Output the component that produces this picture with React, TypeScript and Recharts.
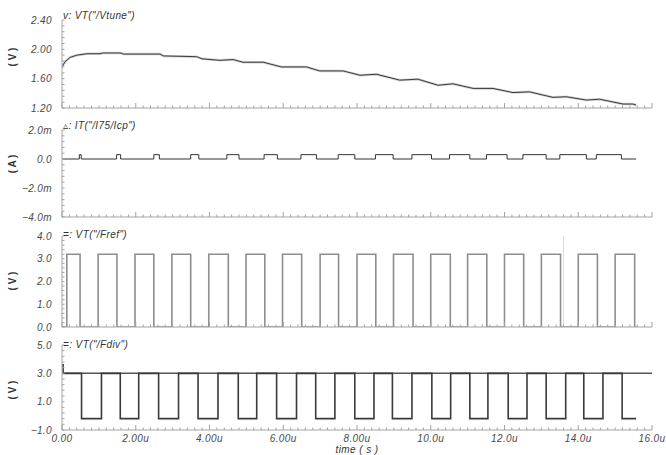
import { Line, LineChart, ReferenceLine, XAxis, YAxis } from "recharts";

const W = 666;
const PLOT_LEFT = 62;
const PLOT_RIGHT = 652;
const AXIS = "#a3a3a3";
const TEXT = "#4a4a4a";
const FONT = "'Liberation Sans', 'DejaVu Sans', sans-serif";

// time axis (us)
const xMajor = [0, 2, 4, 6, 8, 10, 12, 14, 16];
const xLabels = ["0.00", "2.00u", "4.00u", "6.00u", "8.00u", "10.0u", "12.0u", "14.0u", "16.0u"];
const simEnd = 15.57;

// Vtune (V)
const vtuneTime = [
  0, 0.08, 0.22, 0.4, 0.67, 1.03, 1.1, 1.6, 1.66, 2.66, 2.75, 3.65, 3.8, 4.28, 4.64,
  4.91, 5.46, 5.95, 6.63, 6.99, 7.62, 8.08, 8.53, 9.16, 9.65, 10.2, 10.6, 11.15,
  11.69, 12.23, 12.68, 13.31, 13.68, 14.22, 14.58, 15.21, 15.48, 15.57,
];
const vtuneVolts = [
  1.76, 1.83, 1.89, 1.92, 1.94, 1.94, 1.95, 1.95, 1.935, 1.935, 1.91, 1.9, 1.87, 1.85, 1.86,
  1.824, 1.824, 1.76, 1.76, 1.706, 1.706, 1.647, 1.66, 1.58, 1.593, 1.51, 1.53, 1.467,
  1.467, 1.41, 1.42, 1.345, 1.353, 1.308, 1.32, 1.254, 1.254, 1.24,
];

// Icp (mA): up pulses
const icpStart = [0.47, 1.48, 2.49, 3.49, 4.47, 5.48, 6.48, 7.49, 8.5, 9.49, 10.51, 11.51, 12.5, 13.5, 14.49];
const icpEnd = [0.52, 1.59, 2.64, 3.71, 4.8, 5.84, 6.9, 7.94, 8.98, 10.02, 11.06, 12.07, 13.13, 14.22, 15.17];
const icpUp = 0.3;

// Fref (V)
const frefRise = [0.13, 0.98, 1.98, 2.98, 3.98, 4.99, 5.98, 7.0, 8.0, 8.99, 10.0, 11.0, 12.0, 13.0, 14.0, 15.0];
const frefFall = [0.49, 1.49, 2.49, 3.49, 4.51, 5.5, 6.5, 7.5, 8.51, 9.52, 10.53, 11.52, 12.52, 13.52, 14.52, 15.53];
const frefHigh = 3.2;
const cursorTime = 13.6;

// Fdiv (V)
const fdivFall = [0.53, 1.58, 2.62, 3.69, 4.78, 5.82, 6.88, 7.94, 8.96, 10.03, 11.06, 12.1, 13.13, 14.15, 15.19];
const fdivRise = [1.07, 2.08, 3.16, 4.23, 5.28, 6.36, 7.4, 8.46, 9.49, 10.54, 11.55, 12.61, 13.66, 14.67];
const fdivHigh = 3.0;
const fdivLow = -0.2;
const fdivSpike = 3.6;
const railLevel = 3.0;

type Pt = { t: number; v: number };

const steps = (from: number, to: number, m: number) => {
  const out: number[] = [];
  for (let i = 0; from + i * m <= to + 1e-6; i++) out.push(+(from + i * m).toFixed(3));
  return out;
};
const xMinor = steps(0, 16, 0.2);

const vtuneData: Pt[] = vtuneTime.map((t, i) => ({ t, v: vtuneVolts[i] }));

const icpData: Pt[] = [{ t: 0, v: 0 }];
icpStart.forEach((s, i) => {
  icpData.push({ t: s, v: icpUp }, { t: icpEnd[i], v: 0 });
});
icpData.push({ t: simEnd, v: 0 });

const frefData: Pt[] = [{ t: 0, v: 0 }];
frefRise.forEach((r, i) => {
  frefData.push({ t: r, v: frefHigh }, { t: frefFall[i], v: 0 });
});
frefData.push({ t: simEnd, v: 0 });

const fdivData: Pt[] = [{ t: 0, v: fdivSpike }, { t: 0.03, v: fdivHigh }];
fdivFall.forEach((f, i) => {
  fdivData.push({ t: f, v: fdivLow });
  if (i < fdivRise.length) fdivData.push({ t: fdivRise[i], v: fdivHigh });
});
fdivData.push({ t: simEnd, v: fdivLow });

const textStyle = {
  fontSize: 10,
  fill: TEXT,
  fontFamily: FONT,
  fontStyle: "italic" as const,
  letterSpacing: 0.4,
};

const findMajor = (majors: number[], v: number) => majors.findIndex((m) => Math.abs(m - v) < 1e-6);

const makeXTick = (labels: string[] | null) => (props: any) => {
  const { x, y, payload } = props;
  const i = findMajor(xMajor, payload.value);
  return (
    <g>
      <line x1={x} x2={x} y1={y} y2={y - (i >= 0 ? 5 : 2.5)} stroke={AXIS} />
      {labels && i >= 0 && (
        <text x={x} y={y + 12} textAnchor="middle" {...textStyle}>
          {labels[i]}
        </text>
      )}
    </g>
  );
};

const makeYTick = (majors: number[], fmt: (v: number) => string) => (props: any) => {
  const { x, y, payload } = props;
  const i = findMajor(majors, payload.value);
  return (
    <g>
      <line x1={x} x2={x + 2.5} y1={y} y2={y} stroke={AXIS} />
      {i >= 0 && (
        <text x={x - 10} y={y} dy="0.35em" textAnchor="end" {...textStyle}>
          {fmt(majors[i])}
        </text>
      )}
    </g>
  );
};

type PanelProps = {
  top: number;
  height: number;
  mt: number;
  mb: number;
  domain: [number, number];
  ticks: number[];
  minor: number[];
  fmt: (v: number) => string;
  data: Pt[];
  showTime?: boolean;
  children?: React.ReactNode;
};

function Panel({ top, height, mt, mb, domain, ticks, minor, fmt, data, showTime, children }: PanelProps) {
  return (
    <div style={{ position: "absolute", left: 0, top, width: W, height }}>
      <LineChart
        width={W}
        height={height}
        data={data}
        margin={{ top: mt, right: W - PLOT_RIGHT, bottom: mb, left: PLOT_LEFT - 40 }}
      >
        <XAxis xAxisId="x" dataKey="t" type="number" domain={[0, 16]} ticks={xMinor} interval={0}
          height={showTime ? 20 : 1} tickSize={0} tickMargin={0} tickLine={false} stroke={AXIS}
          tick={makeXTick(showTime ? xLabels : null)} allowDataOverflow />
        <YAxis yAxisId="y" type="number" domain={domain} ticks={minor} interval={0} width={40}
          tickSize={0} tickMargin={0} tickLine={false} stroke={AXIS}
          tick={makeYTick(ticks, fmt)} allowDataOverflow />
        {children}
      </LineChart>
    </div>
  );
}

const unitStyle = (cy: number): React.CSSProperties => ({
  position: "absolute",
  left: 12,
  top: cy,
  transform: "translate(-50%, -50%) rotate(-90deg)",
  fontFamily: FONT,
  fontSize: 10,
  fontWeight: "bold",
  color: "#333",
  whiteSpace: "nowrap",
});

const titleStyle = (top: number): React.CSSProperties => ({
  position: "absolute",
  left: 63,
  top,
  fontFamily: FONT,
  fontSize: 10,
  letterSpacing: 0.4,
  fontStyle: "italic",
  color: "#333",
  whiteSpace: "nowrap",
  lineHeight: "10px",
});

const minus = (s: string) => s.replace("-", "\u2212");

export default function App() {
  return (
    <div style={{ position: "absolute", left: 0, top: 0, width: W, height: 455, background: "#fff", overflow: "hidden" }}>
      <Panel top={0} height={112} mt={20} mb={3} domain={[1.2, 2.4]} ticks={[1.2, 1.6, 2.0, 2.4]}
        minor={steps(1.2, 2.4, 0.08)} fmt={(v) => v.toFixed(2)} data={vtuneData}>
        <Line xAxisId="x" yAxisId="y" dataKey="v" type="linear" stroke="#cfcfcf" strokeWidth={2.5} dot={false} isAnimationActive={false} />
        <Line xAxisId="x" yAxisId="y" dataKey="v" type="linear" stroke="#2a2a2a" strokeWidth={0.9} dot={false} isAnimationActive={false} />
      </Panel>
      <Panel top={112} height={109} mt={18} mb={3} domain={[-4, 2]} ticks={[-4, -2, 0, 2]}
        minor={steps(-4, 2, 0.4)} fmt={(v) => (v === 0 ? "0.0" : minus(v.toFixed(1) + "m"))} data={icpData}>
        <Line xAxisId="x" yAxisId="y" dataKey="v" type="stepAfter" stroke="#333" strokeWidth={1} dot={false} isAnimationActive={false} />
      </Panel>
      <Panel top={221} height={110} mt={15} mb={3} domain={[0, 4]} ticks={[0, 1, 2, 3, 4]}
        minor={steps(0, 4, 0.2)} fmt={(v) => v.toFixed(1)} data={frefData}>
        <ReferenceLine xAxisId="x" yAxisId="y" x={cursorTime} stroke="#dcdcdc" strokeWidth={1} />
        <Line xAxisId="x" yAxisId="y" dataKey="v" type="stepAfter" stroke="#8e8e8e" strokeWidth={1.6} dot={false} isAnimationActive={false} />
      </Panel>
      <Panel top={331} height={124} mt={14} mb={5} domain={[-1, 5]} ticks={[-1, 1, 3, 5]}
        minor={steps(-1, 5, 0.4)} fmt={(v) => minus(v.toFixed(1))} data={fdivData} showTime>
        <ReferenceLine xAxisId="x" yAxisId="y" y={railLevel} stroke="#555" strokeWidth={1.5} />
        <Line xAxisId="x" yAxisId="y" dataKey="v" type="stepAfter" stroke="#3a3a3a" strokeWidth={1.6} dot={false} isAnimationActive={false} />
      </Panel>

      <div style={titleStyle(11)}>v: VT("/Vtune")</div>
      <div style={titleStyle(121)}>▵: IT("/I75/Icp")</div>
      <div style={titleStyle(230)}>=: VT("/Fref")</div>
      <div style={titleStyle(340)}>=: VT("/Fdiv")</div>

      <div style={unitStyle(57)}>( V )</div>
      <div style={unitStyle(164)}>( A )</div>
      <div style={unitStyle(281)}>( V )</div>
      <div style={unitStyle(390)}>( V )</div>

      <div style={{ position: "absolute", left: 357, top: 449, transform: "translate(-50%, -50%)", fontFamily: FONT, fontSize: 10, letterSpacing: 0.4, fontStyle: "italic", color: "#333", whiteSpace: "nowrap" }}>
        time ( s )
      </div>
    </div>
  );
}
